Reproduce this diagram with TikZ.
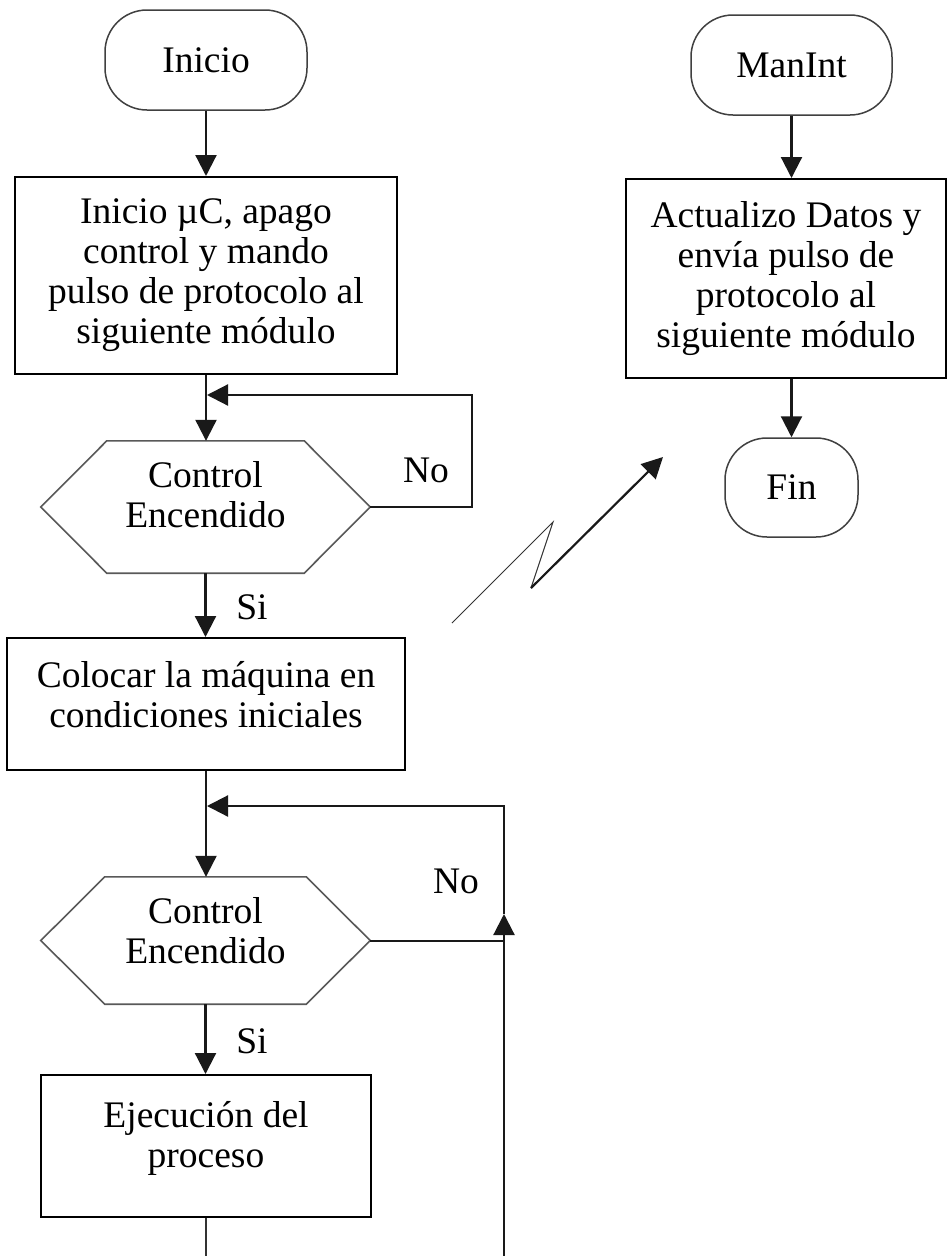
\documentclass[tikz,border=0pt]{standalone}
\usepackage{fontspec}
\setmainfont{Liberation Serif}
\usetikzlibrary{arrows.meta}
\begin{document}
\begin{tikzpicture}[x=1pt,y=-1pt,
  every node/.style={font=\fontsize{37.5}{40}\selectfont, align=center, inner sep=0pt},
  term/.style={draw=black!75, line width=1.5pt, rounded corners=42pt},
  proc/.style={draw=black, line width=2pt},
  hexline/.style={draw=black!65, line width=1.6pt, line join=miter},
  flow/.style={draw=black!90, line width=2.2pt, -{Triangle[length=21pt,width=21pt]}},
  plain/.style={draw=black!90, line width=2pt},
  thin line/.style={draw=black!80, line width=1.2pt}
]
\useasboundingbox (0,0) rectangle (948,1256);
\fill[white] (0,0) rectangle (948,1256);

% left column
\node[term, minimum width=202pt, minimum height=100pt] (inicio) at (206,60) {Inicio};
\node[proc, minimum width=382pt, minimum height=197pt] (b1) at (206,275.5)
  {Inicio µC, apago\\control y mando\\pulso de protocolo al\\siguiente módulo};
\node[minimum width=329pt, minimum height=132pt,
  label={[yshift=12pt, align=center]center:{Control\\Encendido}}] (h1) at (205.5,507) {};
\draw[hexline] (h1.west) -- ([xshift=66pt]h1.north west) -- ([xshift=-66pt]h1.north east)
  -- (h1.east) -- ([xshift=-66pt]h1.south east) -- ([xshift=66pt]h1.south west) -- cycle;
\node (no1) at (426,470) {No};
\node (si1) at (252,607) {Si};

\node[proc, minimum width=398pt, minimum height=132pt,
  label={[yshift=9pt, align=center]center:{Colocar la máquina en\\condiciones iniciales}}] (b2) at (206,704) {};
\node[minimum width=329pt, minimum height=127pt,
  label={[yshift=10pt, align=center]center:{Control\\Encendido}}] (h2) at (205.5,940.5) {};
\draw[hexline] (h2.west) -- ([xshift=64pt]h2.north west) -- ([xshift=-64pt]h2.north east)
  -- (h2.east) -- ([xshift=-64pt]h2.south east) -- ([xshift=64pt]h2.south west) -- cycle;
\node (no2) at (456,881) {No};
\node (si2) at (252,1041) {Si};

\node[proc, minimum width=330pt, minimum height=142pt,
  label={[yshift=8pt, align=center]center:{Ejecución del\\proceso}}] (b3) at (206,1146) {};

% right column
\node[term, minimum width=201pt, minimum height=100pt] (manint) at (791.5,65) {ManInt};
\node[proc, minimum width=320pt, minimum height=199pt] (b4) at (786,278.5)
  {Actualizo Datos y\\envía pulso de\\protocolo al\\siguiente módulo};
\node[term, minimum width=133pt, minimum height=99pt] (fin) at (791.5,487.5) {Fin};

% coordinates
\coordinate (r1) at (472,395);
\coordinate (r2b) at (504,1256);
\coordinate (r2m) at (504,914);
\coordinate (r2t) at (504,806);
\coordinate (bot) at (206,1256);
\coordinate (z1) at (452,623);
\coordinate (z2) at (553,522);
\coordinate (z3) at (531,588);
\coordinate (z4) at (663,457);

% connectors
\draw[flow] (inicio.south) -- (b1.north);
\draw[flow] (b1.south) -- (b1.south |- h1.north);
\draw[flow] (h1.east) -| (r1) -- ([xshift=1pt]b1.south |- r1);
\draw[flow] (h1.south) -- (h1.south |- b2.north);
\draw[flow] (b2.south) -- (b2.south |- h2.north);
\draw[plain] (h2.east) -- (r2b |- h2.east);
\draw[flow] (r2b) -- (r2m);
\draw[flow] (r2m) -- (r2t) -- ([xshift=1pt]b2.south |- r2t);
\draw[flow] (h2.south) -- (h2.south |- b3.north);
\draw[thin line] (b3.south) -- (b3.south |- bot);

\draw[flow] (manint.south) -- (manint.south |- b4.north);
\draw[flow] (fin.north |- b4.south) -- (fin.north);

\draw[draw=black!80, line width=1pt] (z1) -- (z2) -- (z3);
\draw[flow] (z3) -- (z4);
\end{tikzpicture}
\end{document}
